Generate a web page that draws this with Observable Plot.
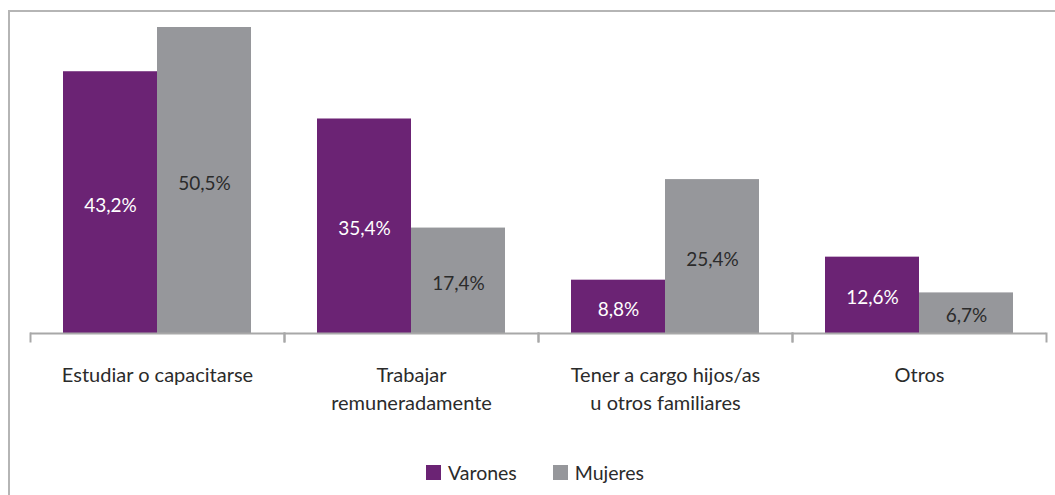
<!DOCTYPE html>
<html>
<head>
<meta charset="utf-8">
<script src="https://cdn.jsdelivr.net/npm/d3@7"></script>
<script src="https://cdn.jsdelivr.net/npm/@observablehq/plot@0.6"></script>
<style>
  html, body { margin: 0; padding: 0; background: #fff; overflow: hidden; width: 1055px; height: 495px; }
  #frame { position: absolute; left: 8px; top: 10px; width: 1200px; height: 600px;
           border-left: 2px solid #b5b5b5; border-top: 2px solid #b5b5b5; box-sizing: border-box; }
  #chart { position: absolute; left: 0; top: 0; }
  #legend { position: absolute; left: 0; top: 461px; width: 1070px; display: flex; justify-content: center;
            font-family: Lato, sans-serif; font-size: 19.5px; color: #2b2b2b; }
  .item { display: flex; align-items: center; margin: 0 18px; }
  .sw { width: 15px; height: 15px; margin-right: 7px; }
</style>
</head>
<body>
<div id="frame"></div>
<div id="chart"></div>
<div id="legend"></div>
<script>
const categories = ["Estudiar o capacitarse", "Trabajar remuneradamente", "Tener a cargo hijos/as u otros familiares", "Otros"];
const categoryLabels = ["Estudiar o capacitarse", "Trabajar\nremuneradamente", "Tener a cargo hijos/as\nu otros familiares", "Otros"];
const series = ["Varones", "Mujeres"];
const varones = [43.2, 35.4, 8.8, 12.6];
const mujeres = [50.5, 17.4, 25.4, 6.7];
const colors = ["#6b2374", "#96979b"];
const labelColors = ["#ffffff", "#2b2b2b"];

const data = [];
categories.forEach((c, i) => {
  data.push({cat: c, series: "Varones", value: varones[i]});
  data.push({cat: c, series: "Mujeres", value: mujeres[i]});
});
const fmt = v => v.toFixed(1).replace(".", ",") + "%";

const plot = Plot.plot({
  width: 1055,
  height: 440,
  marginTop: 0,
  marginLeft: 30,
  marginRight: 9,
  marginBottom: 99,
  style: {fontFamily: "Lato, sans-serif", fontSize: "20px", color: "#2b2b2b", background: "transparent"},
  fx: {domain: categories, paddingInner: 0, paddingOuter: 0, label: null},
  x: {domain: series, paddingInner: 0, paddingOuter: 0.351, axis: null},
  y: {domain: [0, d3.max(mujeres)], range: [333, 27], axis: null},
  color: {domain: series, range: colors},
  marks: [
    Plot.barY(data, {fx: "cat", x: "series", y: "value", fill: "series"}),
    Plot.text(data, {fx: "cat", x: "series", y: d => d.value / 2, text: d => fmt(d.value), dy: 3,
      fill: d => labelColors[series.indexOf(d.series)], fontSize: 19}),
    Plot.ruleY([0], {stroke: "#a8a8a8", strokeWidth: 2}),
    Plot.frame({anchor: "left", stroke: "#a8a8a8", strokeWidth: 2, insetTop: 333}),
    Plot.frame({anchor: "right", stroke: "#a8a8a8", strokeWidth: 2, insetTop: 333}),
    Plot.axisFx({anchor: "bottom", label: null, tickSize: 0, tickPadding: 21, lineHeight: 1.4, fontSize: 20,
      fill: "#2b2b2b", tickFormat: c => categoryLabels[categories.indexOf(c)]})
  ]
});
document.getElementById("chart").appendChild(plot);

const legend = document.getElementById("legend");
series.forEach((s, i) => {
  const it = document.createElement("div");
  it.className = "item";
  it.innerHTML = `<span class="sw" style="background:${colors[i]}"></span><span>${s}</span>`;
  legend.appendChild(it);
});
</script>
</body>
</html>
